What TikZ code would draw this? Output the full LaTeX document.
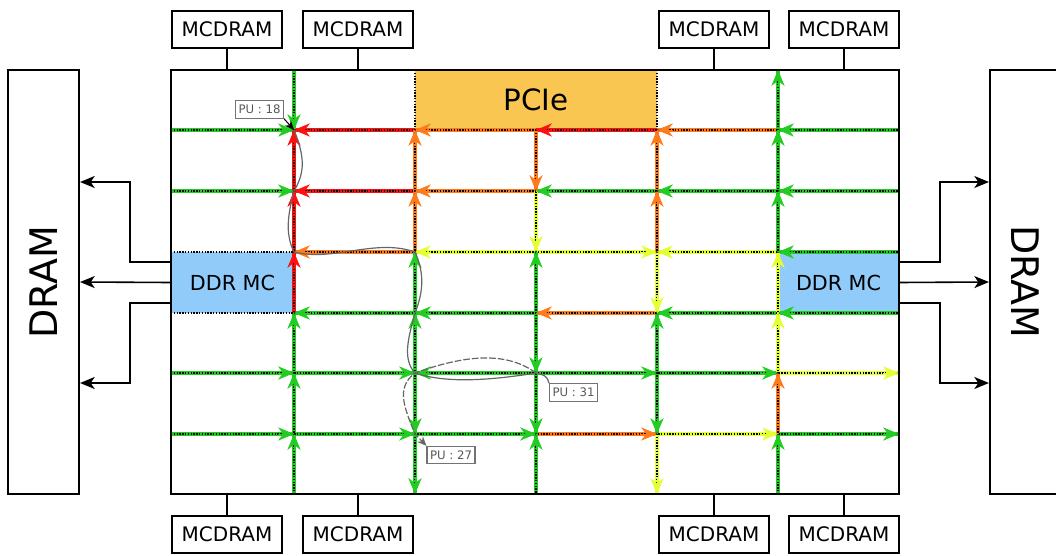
\documentclass[tikz,border=0pt]{standalone}
\usepackage{fontspec}
\setmainfont{DejaVu Sans}
\usepackage{tikz}
\usetikzlibrary{arrows.meta, calc}
\definecolor{linkGreen}{RGB}{34,204,34}
\definecolor{linkOrange}{RGB}{255,122,26}
\definecolor{linkRed}{RGB}{255,16,16}
\definecolor{linkYellow}{RGB}{228,255,50}
\definecolor{pcieOrange}{RGB}{249,198,82}
\definecolor{ddrBlue}{RGB}{144,203,250}

% directed mesh links: from/to/colour (tip at "to")
\newcommand{\meshlinks}{%
  g01/g11/linkGreen, g21/g11/linkRed, g31/g21/linkOrange, g41/g31/linkRed, g51/g41/linkOrange, g61/g51/linkGreen,
  g02/g12/linkGreen, g22/g12/linkRed, g32/g22/linkOrange, g42/g32/linkGreen, g52/g42/linkGreen, g62/g52/linkGreen,
  g23/g13/linkOrange, g33/g23/linkYellow, g33/g43/linkYellow, g53/g43/linkYellow, g63/g53/linkGreen,
  g24/g14/linkGreen, g34/g24/linkGreen, g44/g34/linkOrange, g54/g44/linkGreen, g64/g54/linkGreen,
  g05/g15/linkGreen, g15/g25/linkGreen, g35/g25/linkGreen, g35/g45/linkGreen, g45/g55/linkGreen, g55/g65/linkYellow,
  g06/g16/linkGreen, g16/g26/linkGreen, g26/g36/linkGreen, g36/g46/linkOrange, g46/g56/linkYellow, g56/g66/linkGreen,
  g10/g11/linkGreen, g12/g11/linkRed, g13/g12/linkRed, g14/g13/linkRed, g15/g14/linkGreen, g16/g15/linkGreen, g17/g16/linkGreen,
  g22/g21/linkOrange, g23/g22/linkOrange, g24/g23/linkGreen, g25/g24/linkGreen, g25/g26/linkGreen, g26/g27/linkGreen,
  g31/g32/linkOrange, g32/g33/linkYellow, g34/g33/linkGreen, g34/g35/linkGreen, g35/g36/linkGreen, g37/g36/linkGreen,
  g42/g41/linkOrange, g43/g42/linkOrange, g43/g44/linkYellow, g45/g44/linkGreen, g45/g46/linkGreen, g46/g47/linkYellow,
  g51/g50/linkGreen, g52/g51/linkGreen, g53/g52/linkGreen, g54/g53/linkYellow, g55/g54/linkYellow, g56/g55/linkOrange, g57/g56/linkGreen}

\begin{document}
\begin{tikzpicture}[x=0.75pt, y=-0.75pt,
  mcdram/.style={rectangle, draw, line width=1.5pt, minimum width=82.5pt,
                 minimum height=28pt, inner sep=0pt, font=\fontsize{15}{18}\selectfont},
  dram/.style={rectangle, draw, line width=1.8pt, minimum width=318pt,
               minimum height=53pt, inner sep=0pt, font=\fontsize{28.5}{34}\selectfont},
  chipbox/.style={rectangle, draw, line width=2.2pt, minimum width=546pt,
                  minimum height=318pt, inner sep=0pt},
  ddrbox/.style={rectangle, fill=ddrBlue, minimum height=45.75pt, inner sep=0pt,
                 font=\fontsize{15.5}{18}\selectfont},
  pciebox/.style={rectangle, fill=pcieOrange, minimum width=181.5pt, minimum height=45pt,
                  inner sep=0pt, font=\fontsize{22}{26}\selectfont},
  meshlink/.style={line width=2.4pt},
  meshdots/.style={line width=1.1pt, densely dotted},
  meshtip/.style={line width=0.4pt, -{Stealth[length=12pt, width=10pt, inset=4pt]}},
  memarrow/.style={line width=1.2pt, -{Stealth[length=11pt, width=9pt, inset=3pt]}},
  mcwire/.style={line width=1.2pt},
  pubox/.style={rectangle, draw=black!55, line width=0.8pt, fill=white, text=black!65,
                inner sep=1.5pt, minimum width=36pt, minimum height=13pt,
                font=\fontsize{8.8}{10}\selectfont},
  puroute/.style={draw=black!60, line width=0.9pt},
  puarrow/.style={line width=0.8pt, -{Stealth[length=7pt, width=6pt]}},
]
  \useasboundingbox (0,0) rectangle (1056,556);

  % mesh crossing points
  \foreach \x [count=\i from 0] in {171,294,415,536,657,778,899}
    \foreach \y [count=\j from 0] in {70,130,191,252,313,373,434,494}
      \coordinate (g\i\j) at (\x,\y);

  % tiles
  \node[pciebox] (pcie) at (536,100) {PCIe};
  \node[ddrbox, minimum width=92.25pt] (ddrL) at (232.5,282.5) {DDR MC};
  \node[ddrbox, minimum width=90.75pt] (ddrR) at (838.5,282.5) {DDR MC};

  % mesh: colour, dots, tips
  \foreach \a/\b/\c in \meshlinks
    \draw[meshlink, \c] (\a) -- (\b);
  \foreach \r in {1,...,6}
    \draw[meshdots] (g0\r) -- (g6\r);
  \foreach \c in {1,2,4,5}
    \draw[meshdots] (g\c0) -- (g\c7);
  \draw[meshdots] (g31) -- (g37);
  \foreach \a/\b/\c in \meshlinks
    \draw[meshtip, \c] ($(\b)!12pt!(\a)$) -- (\b);

  \node[chipbox] (knl) at (535,282) {};

  % MCDRAM above and below
  \foreach \x [count=\k] in {227,358,714,844} {
    \node[mcdram] (mcT\k) at (\x,29.5) {MCDRAM};
    \node[mcdram] (mcB\k) at (\x,534.5) {MCDRAM};
    \draw[mcwire] (mcT\k.south) -- (mcT\k.south |- knl.north);
    \draw[mcwire] (mcB\k.north) -- (mcB\k.north |- knl.south);
  }

  % DRAM
  \node[dram, rotate=90] (dramL) at (43.5,282) {DRAM};
  \node[dram, rotate=-90] (dramR) at (1025.5,282) {DRAM};
  \draw[memarrow] ([yshift=15.4pt]ddrL.west) -- ++(-41,0) |- ([yshift=75pt]dramL.south);
  \draw[memarrow] (ddrL.west) -- (dramL.south);
  \draw[memarrow] ([yshift=-15.4pt]ddrL.west) -- ++(-41,0) |- ([yshift=-75.75pt]dramL.south);
  \draw[memarrow] ([yshift=15.4pt]ddrR.east) -- ++(41,0) |- ([yshift=75pt]dramR.south);
  \draw[memarrow] (ddrR.east) -- (dramR.south);
  \draw[memarrow] ([yshift=-15.4pt]ddrR.east) -- ++(41,0) |- ([yshift=-75.75pt]dramR.south);

  % routes between PUs
  \node[pubox] (pu18) at (259.5,109.5) {PU : 18};
  \node[pubox] (pu31) at (573.5,392.5) {PU : 31};
  \node[pubox] (pu27) at (451,455) {PU : 27};
  \draw[puroute] (pu31.north west) .. controls +(-2,-8) and +(8,2) .. (g35)
    .. controls +(-50,8) and +(30,10) .. (g25)
    .. controls +(-14,-15) and +(-5,20) .. (g24)
    .. controls +(10,-25) and +(8,18) .. (g23)
    .. controls +(-40,-14) and +(40,10) .. (g13)
    .. controls +(-10,-20) and +(-5,20) .. (g12)
    .. controls +(12,-20) and +(10,25) .. (g11);
  \draw[puroute, dash pattern=on 5pt off 1.5pt, -{Stealth[length=7pt, width=6pt]}]
    (g35) .. controls +(-30,-22) and +(50,-18) .. (g25)
    .. controls +(-20,15) and +(-10,-25) .. (g26) -- (pu27.north west);
  \draw[puarrow] (pu18.south east) -- (g11);
\end{tikzpicture}
\end{document}
